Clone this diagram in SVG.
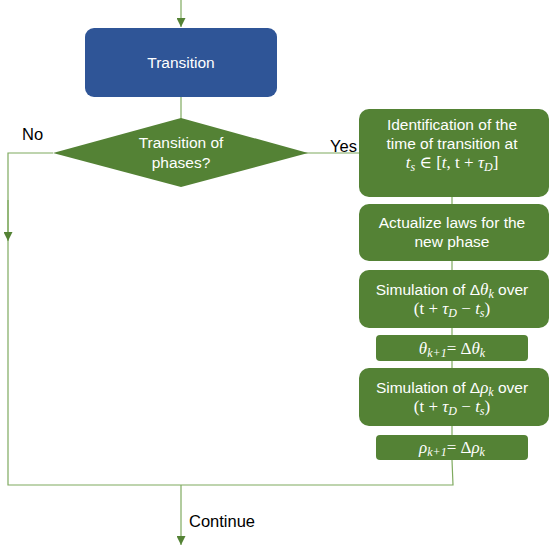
<svg xmlns="http://www.w3.org/2000/svg" width="550" height="550" viewBox="0 0 550 550">
<style>
.t{font-family:"Liberation Sans",Arial,sans-serif;font-size:15.5px;fill:#fff;text-anchor:middle}
.mt{font-size:17px}
.m{font-family:"Liberation Serif","DejaVu Serif",serif;font-style:italic}
.u{font-family:"Liberation Serif","DejaVu Serif",serif;font-style:normal}
.s{font-size:12px}
.lbl{font-family:"Liberation Sans",Arial,sans-serif;font-size:16.5px;fill:#000}
.g{fill:#548235}
.c{fill:none;stroke:#7faa5f;stroke-width:1.2}
</style>
<defs>
<marker id="ah" viewBox="0 0 10 10" refX="10" refY="5" markerWidth="9" markerHeight="9" markerUnits="userSpaceOnUse" orient="auto">
<path d="M0,0 L10,5 L0,10 z" fill="#548235"/>
</marker>
</defs>
<rect width="550" height="550" fill="#fff"/>
<g id="connectors">
<line class="c" x1="181" y1="0" x2="181" y2="27" marker-end="url(#ah)"/>
<line class="c" x1="181" y1="97" x2="181" y2="119"/>
<polyline class="c" points="53,153 8,153 8,485 453,485 452,460"/>
<line class="c" x1="8" y1="200" x2="8" y2="241" marker-end="url(#ah)"/>
<line class="c" x1="181" y1="485" x2="181" y2="545" marker-end="url(#ah)"/>
<line class="c" x1="300" y1="153" x2="359" y2="153"/>
<line class="c" x1="452" y1="197" x2="452" y2="204"/>
<line class="c" x1="452" y1="261" x2="452" y2="270"/>
<line class="c" x1="452" y1="328" x2="452" y2="335"/>
<line class="c" x1="452" y1="361" x2="452" y2="368"/>
<line class="c" x1="452" y1="426" x2="452" y2="435"/>
<text class="lbl" x="22" y="140">No</text>
<text class="lbl" x="330" y="152">Yes</text>
<text class="lbl" x="189" y="527">Continue</text>
</g>
<g id="transition">
<rect x="85" y="28" width="192" height="69" rx="9" fill="#2f5597"/>
<text class="t" x="181" y="68">Transition</text>
</g>
<g id="decision">
<polygon class="g" points="181,118 308,153 181,187 53,153"/>
<text class="t" x="181" y="148">Transition of</text>
<text class="t" x="181" y="168">phases?</text>
</g>
<g id="identification">
<rect class="g" x="359" y="109" width="190" height="88" rx="10"/>
<text class="t" x="452" y="130">Identification of the</text>
<text class="t" x="452" y="149">time of transition at</text>
<text class="t mt" x="452" y="168"><tspan class="m">t</tspan><tspan class="m s" dy="3">s</tspan><tspan class="u" dy="-3"> ∈ [</tspan><tspan class="m">t</tspan><tspan class="u">, t + </tspan><tspan class="m">τ</tspan><tspan class="m s" dy="3">D</tspan><tspan class="u" dy="-3">]</tspan></text>
</g>
<g id="actualize">
<rect class="g" x="359" y="204" width="190" height="57" rx="10"/>
<text class="t" x="452" y="228">Actualize laws for the</text>
<text class="t" x="452" y="247">new phase</text>
</g>
<g id="sim-theta">
<rect class="g" x="359" y="270" width="190" height="58" rx="10"/>
<text class="t" x="452" y="295">Simulation of Δ<tspan class="m mt">θ</tspan><tspan class="m s" dy="3">k</tspan><tspan dy="-3"> over</tspan></text>
<text class="t mt" x="452" y="314"><tspan class="u">(t + </tspan><tspan class="m">τ</tspan><tspan class="m s" dy="3">D</tspan><tspan class="u" dy="-3"> − </tspan><tspan class="m">t</tspan><tspan class="m s" dy="3">s</tspan><tspan class="u" dy="-3">)</tspan></text>
</g>
<g id="theta-update">
<rect class="g" x="376" y="335" width="152" height="26" rx="4"/>
<text class="t mt" x="452" y="354"><tspan class="m">θ</tspan><tspan class="m s" dy="3">k+1</tspan><tspan class="u" dy="-3">=  Δ</tspan><tspan class="m">θ</tspan><tspan class="m s" dy="3">k</tspan></text>
</g>
<g id="sim-rho">
<rect class="g" x="359" y="368" width="190" height="58" rx="10"/>
<text class="t" x="452" y="393">Simulation of Δ<tspan class="m mt">ρ</tspan><tspan class="m s" dy="3">k</tspan><tspan dy="-3"> over</tspan></text>
<text class="t mt" x="452" y="412"><tspan class="u">(t + </tspan><tspan class="m">τ</tspan><tspan class="m s" dy="3">D</tspan><tspan class="u" dy="-3"> − </tspan><tspan class="m">t</tspan><tspan class="m s" dy="3">s</tspan><tspan class="u" dy="-3">)</tspan></text>
</g>
<g id="rho-update">
<rect class="g" x="376" y="435" width="152" height="25" rx="4"/>
<text class="t mt" x="452" y="453"><tspan class="m">ρ</tspan><tspan class="m s" dy="3">k+1</tspan><tspan class="u" dy="-3">=  Δ</tspan><tspan class="m">ρ</tspan><tspan class="m s" dy="3">k</tspan></text>
</g>
</svg>
